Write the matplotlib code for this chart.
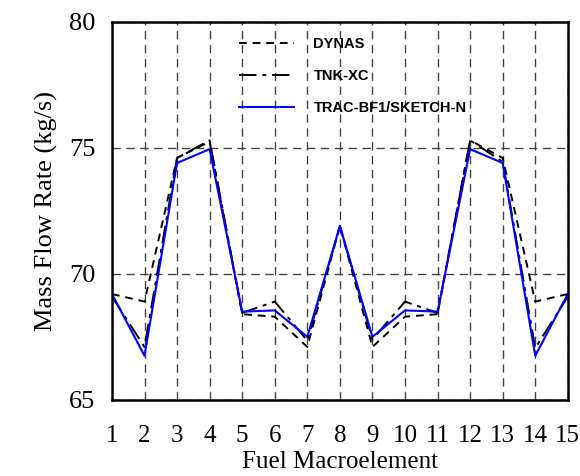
import matplotlib.pyplot as plt

# Mass flow rate per fuel macroelement
elements = list(range(1, 16))
dynas = [69.2, 68.9, 74.6, 75.25, 68.4, 68.3, 67.1, 71.9, 67.1, 68.3, 68.4, 75.3, 74.6, 68.9, 69.2]
tnk_xc = [69.1, 67.1, 74.6, 75.3, 68.45, 68.9, 67.35, 71.9, 67.4, 68.9, 68.45, 75.3, 74.45, 67.05, 69.1]
trac = [69.2, 66.75, 74.4, 74.95, 68.5, 68.55, 67.5, 71.9, 67.5, 68.55, 68.5, 74.95, 74.4, 66.75, 69.2]

plt.rcParams['font.family'] = 'Liberation Serif'

fig = plt.figure(figsize=(5.8, 4.76), dpi=100)
ax = fig.add_axes([0.193, 0.160, 0.786, 0.794])

ax.plot(elements, dynas, '--', color='black', lw=1.4, dashes=(4, 3), label='DYNAS')
ax.plot(elements, tnk_xc, '-.', color='black', lw=1.4, dashes=(9, 3, 2, 3), label='TNK-XC')
ax.plot(elements, trac, '-', color='blue', lw=1.5, label='TRAC-BF1/SKETCH-N')

ax.set_xlim(1, 15)
ax.set_ylim(65, 80)
ax.set_xticks(elements)
ax.set_yticks([65, 70, 75, 80])
ax.tick_params(length=0, labelsize=19)
ax.tick_params(axis='x', labelsize=18, pad=18)
ax.tick_params(axis='y', pad=12)
ax.grid(True, color='#444444', linestyle=(0, (6, 4)), lw=1.0)
for s in ax.spines.values():
    s.set_linewidth(1.8)

ax.set_xlabel('Fuel Macroelement', fontsize=18, labelpad=3)
ax.set_ylabel('Mass Flow Rate (kg/s)', fontsize=19, labelpad=8)

ax.legend(loc='upper left', bbox_to_anchor=(0.25, 0.995), frameon=False,
          prop={'family': 'Liberation Sans', 'weight': 'bold', 'size': 10.5},
          handlelength=3.8, labelspacing=1.25, handletextpad=1.3)

fig.savefig('out.png', dpi=100)
